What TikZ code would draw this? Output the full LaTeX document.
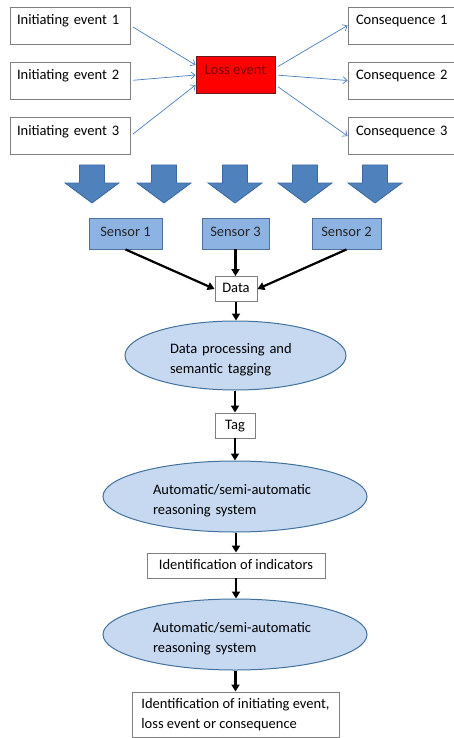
\documentclass[tikz,border=0pt]{standalone}
\usepackage{fontspec}
\setmainfont{Carlito}
\usetikzlibrary{arrows.meta,shapes.geometric,calc}
\definecolor{boxgray}{HTML}{7F7F7F}
\definecolor{thinblue}{HTML}{4A7EBB}
\definecolor{lossborder}{HTML}{6B1A1A}
\definecolor{losstext}{HTML}{7A0000}
\definecolor{sensfill}{HTML}{8DB3E2}
\definecolor{sensborder}{HTML}{4F6F9F}
\definecolor{bigfill}{HTML}{4F81BD}
\definecolor{bigborder}{HTML}{3C6A9F}
\definecolor{ellfill}{HTML}{C6D9F1}
\definecolor{ellborder}{HTML}{41719C}
\newcommand{\topstrut}{\rule{0pt}{18pt}}
\begin{document}
\begin{tikzpicture}[x=1pt,y=-1pt,
  base/.style={font=\fontsize{14.5}{20.5}\selectfont, inner sep=0pt},
  evbox/.style={base, rectangle, draw=boxgray, line width=0.9pt, fill=white,
     minimum width=120pt, minimum height=37pt, text width=106pt, align=left,
     text height=10pt, text depth=11pt},
  consbox/.style={evbox, minimum width=122pt, text width=106pt},
  lossbox/.style={base, rectangle, draw=lossborder, line width=0.9pt, fill=red,
     text=losstext, minimum width=79pt, minimum height=37pt,
     text height=10pt, text depth=11pt},
  sensbox/.style={base, rectangle, draw=sensborder, line width=0.9pt, fill=sensfill,
     text=black!85, minimum height=31pt, text height=10pt, text depth=5pt},
  smallbox/.style={base, rectangle, draw=boxgray, line width=0.9pt, fill=white,
     minimum height=25pt, text height=10pt, text depth=3pt},
  ellnode/.style={base, ellipse, draw=ellborder, line width=1pt, fill=ellfill,
     align=left},
  thinarrow/.style={draw=thinblue, line width=0.7pt, -{Straight Barb[length=4pt,width=7pt]}, shorten <=3pt},
  thickarrow/.style={draw=black, line width=2.2pt, -{Triangle[length=7pt,width=8pt]}},
  bigarrow/.style={fill=bigfill, draw=bigborder, line width=0.8pt, line join=miter}
]
\useasboundingbox (0,0) rectangle (454,738);

% top row
\node[evbox] (ie1) at (70,25.5) {Initiating event 1};
\node[evbox] (ie2) at (70,80.5) {Initiating event 2};
\node[evbox] (ie3) at (70,136) {Initiating event 3};
\node[lossbox] (loss) at (235.5,75) {Loss event};
\node[consbox] (c1) at (409,25.5) {Consequence 1};
\node[consbox] (c2) at (409,80.5) {Consequence 2};
\node[consbox] (c3) at (409,136) {Consequence 3};

\draw[thinarrow] (ie1.east) -- ([yshift=10pt]loss.west);
\draw[thinarrow] (ie2.east) -- (loss.west);
\draw[thinarrow] (ie3.east) -- ([yshift=-10pt]loss.west);
\draw[thinarrow] ([yshift=7pt]loss.east) -- (c1.west);
\draw[thinarrow] (loss.east) -- (c2.west);
\draw[thinarrow] ([yshift=-10pt]loss.east) -- (c3.west);

% big block arrows
\foreach \cx in {92,164,235,305,375}{
  \draw[bigarrow] (\cx-12.5,165) -- (\cx+12.5,165) -- (\cx+12.5,183) -- (\cx+27,183)
    -- (\cx,203) -- (\cx-27,183) -- (\cx-12.5,183) -- cycle;
}

% sensors
\node[sensbox, minimum width=73pt] (s1) at (125.5,233.5) {Sensor 1};
\node[sensbox, minimum width=67pt] (s3) at (235.5,233.5) {Sensor 3};
\node[sensbox, minimum width=69pt] (s2) at (346.5,233.5) {Sensor 2};

\node[smallbox, minimum width=42pt] (data) at (236,289) {Data};

\draw[thickarrow] (s1.south) -- (data.west);
\draw[thickarrow] (s3.south) -- (s3.south |- data.north);
\draw[thickarrow] (s2.south) -- (data.east);

% ellipse 1
\node[ellnode, minimum width=221pt, minimum height=69pt, text width=131pt] (e1) at (235.5,355.5)
  {\topstrut Data processing and\\semantic tagging};
\draw[thickarrow] (data.south) -- (data.south |- e1.north);

\node[smallbox, minimum width=40pt] (tag) at (235,425.5) {Tag};
\draw[thickarrow] (tag.north |- e1.south) -- (tag.north);

\node[ellnode, minimum width=264pt, minimum height=71pt, text width=164pt] (e2) at (235,496.5)
  {\topstrut Automatic/semi-automatic\\reasoning system};
\draw[thickarrow] (tag.south) -- (tag.south |- e2.north);

\node[smallbox, minimum width=178pt] (ind) at (236,565.5) {Identification of indicators};
\draw[thickarrow] (ind.north |- e2.south) -- (ind.north);

\node[ellnode, minimum width=264pt, minimum height=71pt, text width=164pt] (e3) at (235,634.5)
  {\topstrut Automatic/semi-automatic\\reasoning system};
\draw[thickarrow] (ind.south) -- (ind.south |- e3.north);

\node[base, rectangle, draw=boxgray, line width=0.9pt, fill=white, minimum width=207pt,
  minimum height=45pt, align=left] (fin) at (235.5,714.5)
  {Identification of initiating event,\\loss event or consequence};
\draw[thickarrow] (fin.north |- e3.south) -- (fin.north);
\end{tikzpicture}
\end{document}
